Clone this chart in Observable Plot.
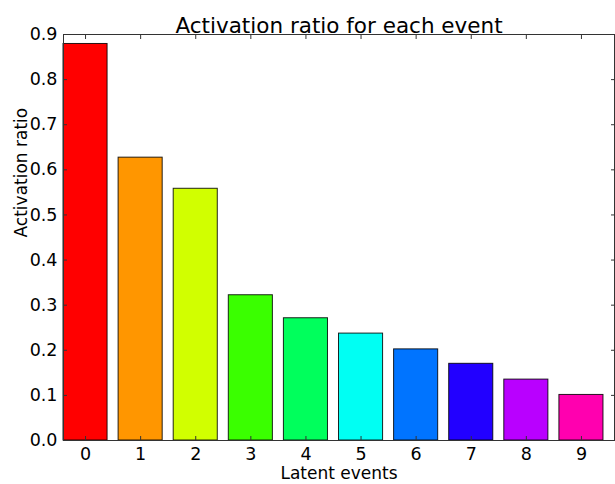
<!DOCTYPE html>
<html>
<head>
<meta charset="utf-8">
<script src="https://cdn.jsdelivr.net/npm/d3@7"></script>
<script src="https://cdn.jsdelivr.net/npm/@observablehq/plot@0.6"></script>
<style>
  html, body { margin: 0; padding: 0; background: #fff; }
</style>
</head>
<body>
<div id="chart"></div>
<script>
const events = [0, 1, 2, 3, 4, 5, 6, 7, 8, 9];
const ratios = [0.879, 0.627, 0.558, 0.322, 0.271, 0.237, 0.202, 0.170, 0.135, 0.101];
const colors = ["#ff0000", "#ff9600", "#d1ff00", "#3aff00", "#00ff5c", "#00fff3", "#0074ff", "#2200ff", "#b900ff", "#ff00af"];
const yTicks = [0, 0.1, 0.2, 0.3, 0.4, 0.5, 0.6, 0.7, 0.8, 0.9];
const title = "Activation ratio for each event";
const xLabel = "Latent events";
const yLabel = "Activation ratio";

const data = events.map((e, i) => ({event: e, ratio: ratios[i], color: colors[i]}));
const barWidth = 0.8;

const chart = Plot.plot({
  width: 615,
  height: 484,
  marginLeft: 63,
  marginRight: 1,
  marginTop: 34,
  marginBottom: 44,
  style: {fontFamily: "'DejaVu Sans', sans-serif", fontSize: "17px", color: "#000", background: "#fff"},
  x: {domain: [-0.4, 9.6], ticks: events},
  y: {domain: [0, 0.9], ticks: yTicks},
  color: {type: "identity"},
  marks: [
    Plot.rectY(data, {
      x1: d => d.event - barWidth / 2,
      x2: d => d.event + barWidth / 2,
      y1: 0,
      y2: "ratio",
      fill: "color",
      stroke: "#000",
      strokeWidth: 1,
      strokeOpacity: 0.85
    }),
    Plot.axisX({anchor: "bottom", ticks: events, tickSize: -4, tickPadding: 11, tickFormat: d3.format("d"), label: null, fontSize: 17.5, stroke: "#333"}),
    Plot.axisX({anchor: "top", ticks: events, tickSize: -4, tickFormat: () => "", label: null, stroke: "#333"}),
    Plot.axisY({anchor: "left", ticks: yTicks, tickSize: -4, tickPadding: 10, tickFormat: d3.format(".1f"), label: null, fontSize: 17.5, stroke: "#333"}),
    Plot.axisY({anchor: "right", ticks: yTicks, tickSize: -4, tickFormat: () => "", label: null, stroke: "#333"}),
    Plot.frame({stroke: "#333", strokeWidth: 1}),
    Plot.text([title], {frameAnchor: "top", lineAnchor: "bottom", dy: -2, fontSize: 21.5, text: d => d}),
    Plot.text([xLabel], {frameAnchor: "bottom", lineAnchor: "middle", dy: 33, fontSize: 17, text: d => d}),
    Plot.text([yLabel], {frameAnchor: "left", lineAnchor: "middle", rotate: -90, dx: -42, fontSize: 17, text: d => d})
  ]
});
document.getElementById("chart").appendChild(chart);
</script>
</body>
</html>
